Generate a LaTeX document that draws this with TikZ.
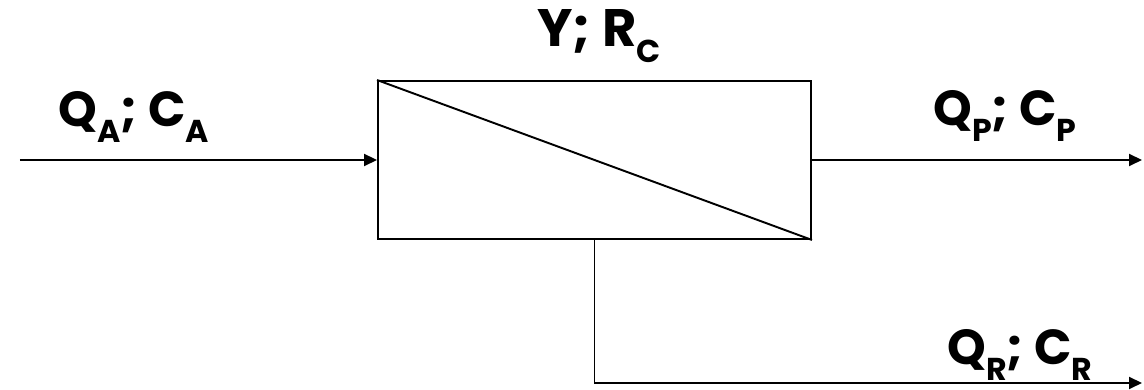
\documentclass[tikz,border=0pt]{standalone}
\usepackage{fontspec}
\newfontfamily\labelfont{Poppins}
\usetikzlibrary{arrows.meta,positioning}

\tikzset{
  flow/.style={line width=1.1pt,-{Triangle[length=0.26cm,width=0.24cm]}},
  lbl/.style={font=\labelfont\bfseries\fontsize{28}{32}\selectfont, anchor=base},
  biglbl/.style={lbl, font=\labelfont\bfseries\fontsize{30}{34}\selectfont},
}
\newcommand{\lowidx}[1]{\raisebox{-9pt}{\fontsize{18}{18}\selectfont #1}}

\begin{document}
\begin{tikzpicture}
  \useasboundingbox (0,0) rectangle (22.88,7.8);

  % membrana
  \node[draw, line width=1.1pt, minimum width=8.66cm, minimum height=3.16cm, inner sep=0pt] (mem) at (11.89,4.6) {};
  \draw[line width=1.1pt] (mem.north west) -- (mem.south east);

  % alimentazione
  \coordinate (in) at (0.4,4.6);
  \draw[flow] (in) -- (mem.west);

  % permeato e concentrato
  \coordinate (perm) at (22.84,4.6);
  \coordinate (ret) at (22.84,0.14);
  \draw[flow] (mem.east) -- (perm);
  \draw[flow] (mem.south) |- (ret);

  % etichette
  \node[lbl] (feedlbl) at (2.68,5.26) {Q\lowidx{A}; C\lowidx{A}};
  \node[biglbl] (reclbl) at (11.98,6.86) {Y; R\lowidx{C}};
  \node[lbl] (permlbl) at (20.1,5.28) {Q\lowidx{P}; C\lowidx{P}};
  \node[lbl] (retlbl) at (20.4,0.5) {Q\lowidx{R}; C\lowidx{R}};
\end{tikzpicture}
\end{document}
